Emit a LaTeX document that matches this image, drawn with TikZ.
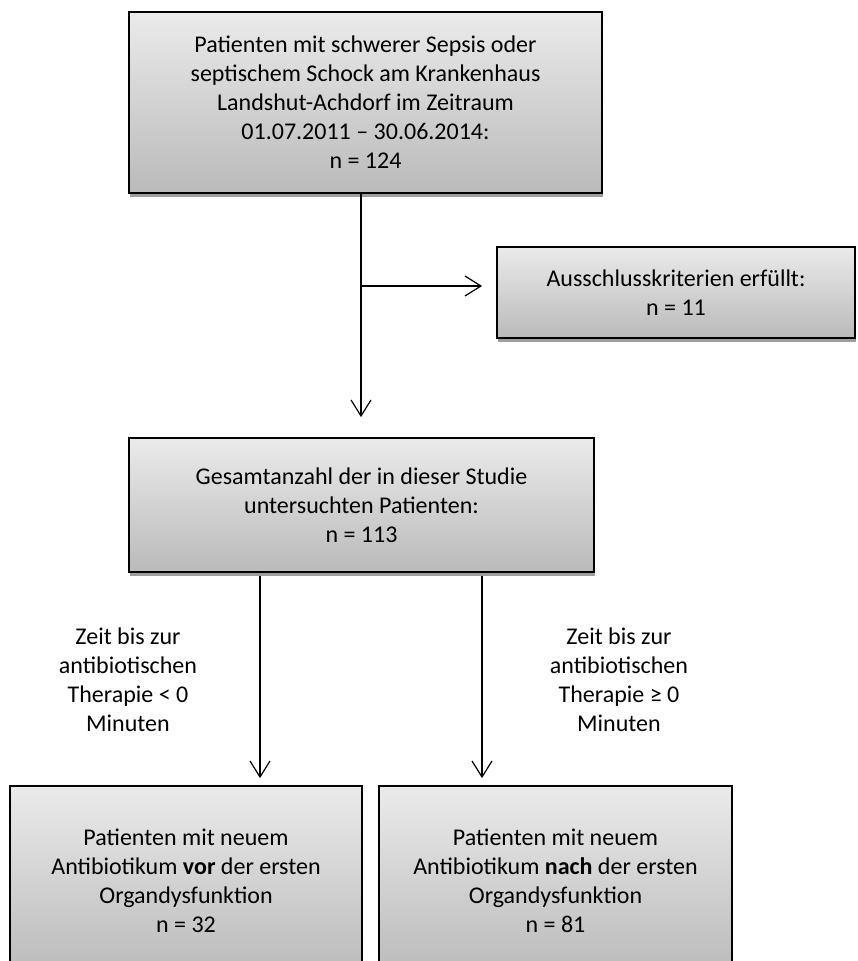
\documentclass[tikz,border=0pt]{standalone}
\usepackage{fontspec}
\setmainfont{Carlito}
\usetikzlibrary{arrows.meta,positioning,calc,shadows}
\tikzset{every node/.style={ % Text of all nodes
            font=\fontsize{24}{29}\selectfont,
            align=center},
        flowbox/.style={ % Grey boxes with shading and shadow
            draw=black,
            line width=1.8pt,
            rectangle,
            top color=black!8,
            bottom color=black!27,
            drop shadow={shadow xshift=1pt,shadow yshift=-4pt,fill=black!38,opacity=1}},
        flowarrow/.style={ % Connectors with open arrow heads
            draw,
            line width=1.2pt,
            -{Straight Barb[length=16pt,width=20pt,line width=1.2pt]}}
        }

\begin{document}
\begin{tikzpicture}[x=1pt,y=-1pt]
    \useasboundingbox (0,0) rectangle (857,961);

    \node[flowbox, minimum width=473pt, minimum height=181pt] (allpat) at (365.5,102.5)
        {Patienten mit schwerer Sepsis oder\\septischem Schock am Krankenhaus\\Landshut-Achdorf im Zeitraum\\01.07.2011 -- 30.06.2014:\\n = 124};
    \node[flowbox, minimum width=358pt, minimum height=91pt] (excl) at (676,292.5)
        {Ausschlusskriterien erfüllt:\\n = 11};
    \node[flowbox, minimum width=465pt, minimum height=134pt] (study) at (361.5,505)
        {Gesamtanzahl der in dieser Studie\\untersuchten Patienten:\\n = 113};
    \node[flowbox, minimum width=352pt, minimum height=189pt] (vor) at (186,880.5)
        {Patienten mit neuem\\Antibiotikum \textbf{vor} der ersten\\Organdysfunktion\\n = 32};
    \node[flowbox, minimum width=353pt, minimum height=189pt] (nach) at (555.5,880.5)
        {Patienten mit neuem\\Antibiotikum \textbf{nach} der ersten\\Organdysfunktion\\n = 81};

    \node (tneg) at (128,680) {Zeit bis zur\\antibiotischen\\Therapie < 0\\Minuten};
    \node (tpos) at (619,680) {Zeit bis zur\\antibiotischen\\Therapie ≥ 0\\Minuten};

    \coordinate (split) at (361,286);
    \coordinate (lx) at (260,0);
    \coordinate (rx) at (482,0);

    \draw[flowarrow, shorten >=20pt] (allpat.south -| split) -- (study.north -| split);
    \draw[flowarrow, shorten >=14pt] (split) -- (split -| excl.west);
    \draw[flowarrow, shorten <=3pt, shorten >=7pt] (study.south -| lx) -- (vor.north -| lx);
    \draw[flowarrow, shorten <=3pt, shorten >=7pt] (study.south -| rx) -- (nach.north -| rx);
\end{tikzpicture}
\end{document}
